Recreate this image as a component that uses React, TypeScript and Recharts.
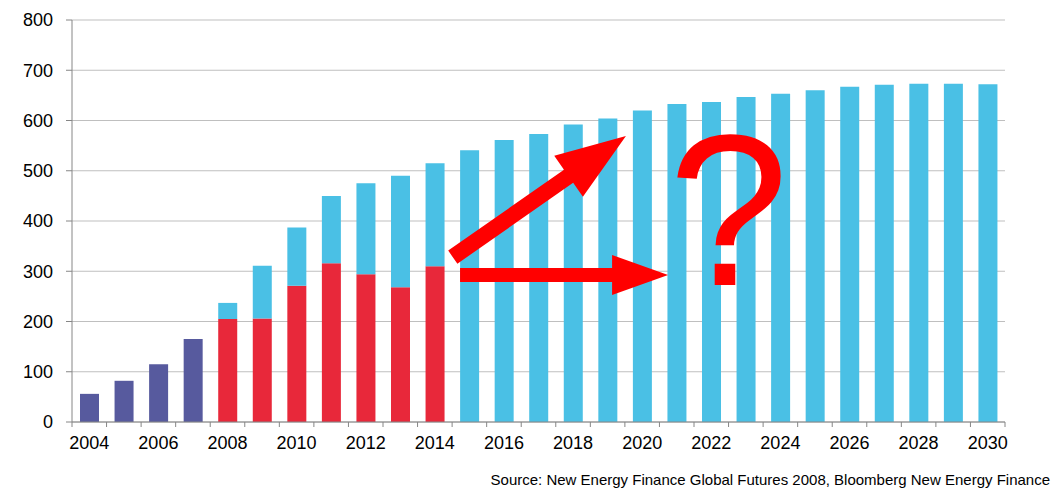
import React from "react";
import {
  BarChart,
  Bar,
  XAxis,
  YAxis,
  CartesianGrid,
  ReferenceLine,
  ReferenceDot,
} from "recharts";

const years = [
  "2004", "2005", "2006", "2007", "2008", "2009", "2010", "2011", "2012",
  "2013", "2014", "2015", "2016", "2017", "2018", "2019", "2020", "2021",
  "2022", "2023", "2024", "2025", "2026", "2027", "2028", "2029", "2030",
];

// early years (purple)
const earlyValues = [56, 82, 115, 165];
// 2008–2014 actual (red)
const actualValues = [205, 206, 271, 316, 294, 268, 310];
// total bar height (top of blue)
const totalValues = [
  56, 82, 115, 165, 237, 311, 387, 450, 475, 490, 515, 541, 561, 573, 592,
  604, 620, 633, 637, 647, 653, 660, 667, 671, 673, 673, 672,
];

const yTicks = [0, 100, 200, 300, 400, 500, 600, 700, 800];

const PURPLE = "#575A9E";
const RED = "#E8283A";
const BLUE = "#4AC0E5";
const FONT = "'Liberation Sans', Arial, sans-serif";

const chartData = years.map((year, i) => {
  const early = i < earlyValues.length ? earlyValues[i] : null;
  const ai = i - earlyValues.length;
  const actual = ai >= 0 && ai < actualValues.length ? actualValues[ai] : null;
  const rest = totalValues[i] - (early ?? 0) - (actual ?? 0);
  return {
    year,
    yearNum: Number(year),
    early,
    actual,
    forecast: rest > 0 ? rest : null,
  };
});

function YearTick(props: any) {
  const { x, y, payload, index } = props;
  const half = payload?.offset ?? 17.28;
  const last = index === years.length - 1;
  return (
    <g>
      <line x1={x - half} x2={x - half} y1={y} y2={y + 5} stroke="#868686" />
      {last && (
        <line x1={x + half} x2={x + half} y1={y} y2={y + 5} stroke="#868686" />
      )}
      {index % 2 === 0 && (
        <text
          x={x}
          y={y + 27}
          textAnchor="middle"
          fontSize={18}
          fontFamily={FONT}
          fill="#000"
        >
          {payload.value}
        </text>
      )}
    </g>
  );
}

function arrowShape(t: number, w: number, h: number) {
  return (props: any) => {
    const { x1, y1, x2, y2 } = props;
    const dx = x2 - x1;
    const dy = y2 - y1;
    const len = Math.sqrt(dx * dx + dy * dy) || 1;
    const ux = dx / len;
    const uy = dy / len;
    const nx = -uy;
    const ny = ux;
    const bx = x2 - ux * h;
    const by = y2 - uy * h;
    const pts = [
      [x1 + nx * t, y1 + ny * t],
      [bx + nx * t, by + ny * t],
      [bx + nx * w, by + ny * w],
      [x2, y2],
      [bx - nx * w, by - ny * w],
      [bx - nx * t, by - ny * t],
      [x1 - nx * t, y1 - ny * t],
    ];
    return (
      <polygon points={pts.map((p) => p.join(",")).join(" ")} fill="#FF0000" />
    );
  };
}

function QuestionMark(props: any) {
  const { cx, cy } = props;
  return (
    <text
      x={cx}
      y={cy}
      textAnchor="middle"
      fontSize={216}
      fontFamily={FONT}
      fill="#FF0000"
    >
      ?
    </text>
  );
}

export default function App() {
  return (
    <div
      style={{
        position: "absolute",
        left: 0,
        top: 0,
        width: 1058,
        height: 494,
        background: "#fff",
        fontFamily: FONT,
      }}
    >
      <BarChart
        width={1058}
        height={494}
        data={chartData}
        margin={{ top: 20, right: 53, bottom: 42, left: 0 }}
        barSize={19}
      >
        <CartesianGrid vertical={false} stroke="#BFBFBF" strokeWidth={1.2} />
        <XAxis
          dataKey="year"
          interval={0}
          height={30}
          tickSize={0}
          tickMargin={0}
          tickLine={false}
          axisLine={{ stroke: "#868686" }}
          tick={<YearTick />}
        />
        <XAxis
          xAxisId="ann"
          dataKey="yearNum"
          type="number"
          domain={[2003.5, 2030.5]}
          allowDataOverflow
          hide
        />
        <YAxis
          domain={[0, 800]}
          ticks={yTicks}
          width={72}
          tickSize={6}
          tickMargin={13}
          axisLine={{ stroke: "#868686" }}
          tickLine={{ stroke: "#868686" }}
          tick={{ fontSize: 18, fill: "#000", fontFamily: FONT }}
        />
        <Bar dataKey="early" stackId="a" fill={PURPLE} isAnimationActive={false} />
        <Bar dataKey="actual" stackId="a" fill={RED} isAnimationActive={false} />
        <Bar dataKey="forecast" stackId="a" fill={BLUE} isAnimationActive={false} />
        <ReferenceLine
          xAxisId="ann"
          ifOverflow="visible"
          segment={[
            { x: 2014.52, y: 328 },
            { x: 2019.53, y: 569 },
          ]}
          shape={arrowShape(8, 25, 70)}
        />
        <ReferenceLine
          xAxisId="ann"
          ifOverflow="visible"
          segment={[
            { x: 2014.73, y: 292.5 },
            { x: 2020.75, y: 292.5 },
          ]}
          shape={arrowShape(7, 20, 56)}
        />
        <ReferenceDot
          xAxisId="ann"
          ifOverflow="visible"
          x={2022.5}
          y={272}
          shape={<QuestionMark />}
        />
      </BarChart>
      <div
        style={{
          position: "absolute",
          right: 8,
          top: 471,
          fontSize: 15,
          color: "#000",
          whiteSpace: "nowrap",
        }}
      >
        Source: New Energy Finance Global Futures 2008, Bloomberg New Energy Finance
      </div>
    </div>
  );
}
